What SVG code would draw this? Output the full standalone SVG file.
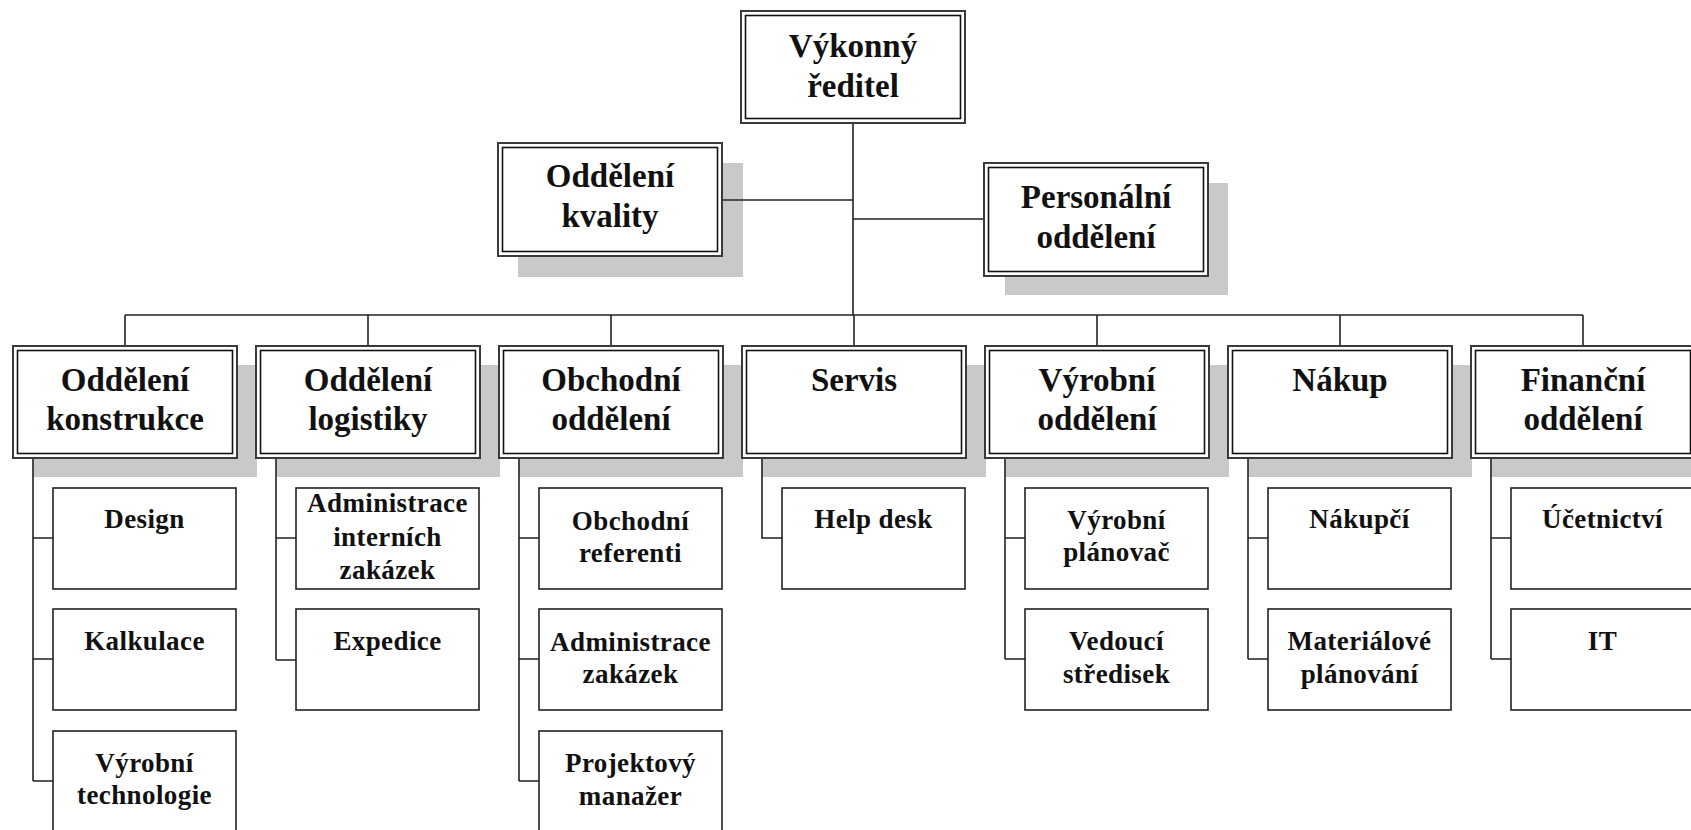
<svg xmlns="http://www.w3.org/2000/svg" width="1691" height="830" viewBox="0 0 1691 830">
<style>
  .bg{fill:#ffffff}
  .sh{fill:#c9c9c9}
  .o{fill:#ffffff;stroke:#3a3a3a;stroke-width:2}
  .i{fill:none;stroke:#111111;stroke-width:1.6}
  .c{fill:#ffffff;stroke:#222222;stroke-width:1.6}
  .ln{fill:none;stroke:#222222;stroke-width:1.6}
  .t{font-family:"Liberation Serif","Times New Roman",serif;font-weight:bold;font-size:33px;fill:#111111;text-anchor:middle}
  .s{font-family:"Liberation Serif","Times New Roman",serif;font-weight:bold;font-size:27px;fill:#111111;text-anchor:middle;letter-spacing:0.4px}
</style>
<rect class="bg" x="0" y="0" width="1691" height="830"/>

<g id="shadows">
  <rect class="sh" x="518" y="163" width="225" height="114"/>
  <rect class="sh" x="1005" y="183" width="223" height="112"/>
  <rect class="sh" x="33" y="365" width="224" height="112"/>
  <rect class="sh" x="276" y="365" width="224" height="112"/>
  <rect class="sh" x="519" y="365" width="224" height="112"/>
  <rect class="sh" x="762" y="365" width="224" height="112"/>
  <rect class="sh" x="1005" y="365" width="224" height="112"/>
  <rect class="sh" x="1248" y="365" width="224" height="112"/>
  <rect class="sh" x="1491" y="365" width="224" height="112"/>
</g>

<g id="connectors">
  <path class="ln" d="M853 123 V315"/>
  <path class="ln" d="M722 200 H853"/>
  <path class="ln" d="M853 219 H984"/>
  <path class="ln" d="M125 315 H1583"/>
  <path class="ln" d="M125 315 V346 M368 315 V346 M611 315 V346 M854 315 V346 M1097 315 V346 M1340 315 V346 M1583 315 V346"/>
  <path class="ln" d="M33 458 V781 M33 538 H53 M33 659 H53 M33 781 H53"/>
  <path class="ln" d="M276 458 V660 M276 538 H296 M276 660 H296"/>
  <path class="ln" d="M519 458 V781 M519 538 H539 M519 659 H539 M519 781 H539"/>
  <path class="ln" d="M762 458 V538 H782"/>
  <path class="ln" d="M1005 458 V659 M1005 538 H1025 M1005 659 H1025"/>
  <path class="ln" d="M1248 458 V659 M1248 538 H1268 M1248 659 H1268"/>
  <path class="ln" d="M1491 458 V659 M1491 538 H1511 M1491 659 H1511"/>
</g>

<g id="n-vykonny">
  <rect class="o" x="741" y="11" width="224" height="112"/>
  <rect class="i" x="745.5" y="15.5" width="215" height="103"/>
  <text class="t" x="853" y="57">Výkonný</text>
  <text class="t" x="853" y="97">ředitel</text>
</g>

<g id="n-kvality">
  <rect class="o" x="498" y="143" width="224" height="113"/>
  <rect class="i" x="502.5" y="147.5" width="215" height="104"/>
  <text class="t" x="610" y="187">Oddělení</text>
  <text class="t" x="610" y="227">kvality</text>
</g>

<g id="n-personalni">
  <rect class="o" x="984" y="163" width="224" height="113"/>
  <rect class="i" x="988.5" y="167.5" width="215" height="104"/>
  <text class="t" x="1096" y="208">Personální</text>
  <text class="t" x="1096" y="248">oddělení</text>
</g>

<g id="n-konstrukce">
  <rect class="o" x="13" y="346" width="224" height="112"/>
  <rect class="i" x="17.5" y="350.5" width="215" height="103"/>
  <text class="t" x="125" y="391">Oddělení</text>
  <text class="t" x="125" y="430">konstrukce</text>
</g>
<g id="n-design">
  <rect class="c" x="53" y="488" width="183" height="101"/>
  <text class="s" x="144.5" y="528">Design</text>
</g>
<g id="n-kalkulace">
  <rect class="c" x="53" y="609" width="183" height="101"/>
  <text class="s" x="144.5" y="650">Kalkulace</text>
</g>
<g id="n-vyrobni-technologie">
  <rect class="c" x="53" y="731" width="183" height="101"/>
  <text class="s" x="144.5" y="772">Výrobní</text>
  <text class="s" x="144.5" y="804">technologie</text>
</g>

<g id="n-logistiky">
  <rect class="o" x="256" y="346" width="224" height="112"/>
  <rect class="i" x="260.5" y="350.5" width="215" height="103"/>
  <text class="t" x="368" y="391">Oddělení</text>
  <text class="t" x="368" y="430">logistiky</text>
</g>
<g id="n-admin-internich">
  <rect class="c" x="296" y="488" width="183" height="101"/>
  <text class="s" x="387.5" y="512">Administrace</text>
  <text class="s" x="387.5" y="546">interních</text>
  <text class="s" x="387.5" y="579">zakázek</text>
</g>
<g id="n-expedice">
  <rect class="c" x="296" y="609" width="183" height="101"/>
  <text class="s" x="387.5" y="650">Expedice</text>
</g>

<g id="n-obchodni">
  <rect class="o" x="499" y="346" width="224" height="112"/>
  <rect class="i" x="503.5" y="350.5" width="215" height="103"/>
  <text class="t" x="611" y="391">Obchodní</text>
  <text class="t" x="611" y="430">oddělení</text>
</g>
<g id="n-obchodni-referenti">
  <rect class="c" x="539" y="488" width="183" height="101"/>
  <text class="s" x="630.5" y="530">Obchodní</text>
  <text class="s" x="630.5" y="562">referenti</text>
</g>
<g id="n-admin-zakazek">
  <rect class="c" x="539" y="609" width="183" height="101"/>
  <text class="s" x="630.5" y="651">Administrace</text>
  <text class="s" x="630.5" y="683">zakázek</text>
</g>
<g id="n-projektovy">
  <rect class="c" x="539" y="731" width="183" height="101"/>
  <text class="s" x="630.5" y="772">Projektový</text>
  <text class="s" x="630.5" y="805">manažer</text>
</g>

<g id="n-servis">
  <rect class="o" x="742" y="346" width="224" height="112"/>
  <rect class="i" x="746.5" y="350.5" width="215" height="103"/>
  <text class="t" x="854" y="391">Servis</text>
</g>
<g id="n-helpdesk">
  <rect class="c" x="782" y="488" width="183" height="101"/>
  <text class="s" x="873.5" y="528">Help desk</text>
</g>

<g id="n-vyrobni">
  <rect class="o" x="985" y="346" width="224" height="112"/>
  <rect class="i" x="989.5" y="350.5" width="215" height="103"/>
  <text class="t" x="1097" y="391">Výrobní</text>
  <text class="t" x="1097" y="430">oddělení</text>
</g>
<g id="n-planovac">
  <rect class="c" x="1025" y="488" width="183" height="101"/>
  <text class="s" x="1116.5" y="529">Výrobní</text>
  <text class="s" x="1116.5" y="561">plánovač</text>
</g>
<g id="n-vedouci">
  <rect class="c" x="1025" y="609" width="183" height="101"/>
  <text class="s" x="1116.5" y="650">Vedoucí</text>
  <text class="s" x="1116.5" y="683">středisek</text>
</g>

<g id="n-nakup">
  <rect class="o" x="1228" y="346" width="224" height="112"/>
  <rect class="i" x="1232.5" y="350.5" width="215" height="103"/>
  <text class="t" x="1340" y="391">Nákup</text>
</g>
<g id="n-nakupci">
  <rect class="c" x="1268" y="488" width="183" height="101"/>
  <text class="s" x="1359.5" y="528">Nákupčí</text>
</g>
<g id="n-materialove">
  <rect class="c" x="1268" y="609" width="183" height="101"/>
  <text class="s" x="1359.5" y="650">Materiálové</text>
  <text class="s" x="1359.5" y="683">plánování</text>
</g>

<g id="n-financni">
  <rect class="o" x="1471" y="346" width="224" height="112"/>
  <rect class="i" x="1475.5" y="350.5" width="215" height="103"/>
  <text class="t" x="1583" y="391">Finanční</text>
  <text class="t" x="1583" y="430">oddělení</text>
</g>
<g id="n-ucetnictvi">
  <rect class="c" x="1511" y="488" width="183" height="101"/>
  <text class="s" x="1602.5" y="528">Účetnictví</text>
</g>
<g id="n-it">
  <rect class="c" x="1511" y="609" width="183" height="101"/>
  <text class="s" x="1602.5" y="650">IT</text>
</g>
</svg>
